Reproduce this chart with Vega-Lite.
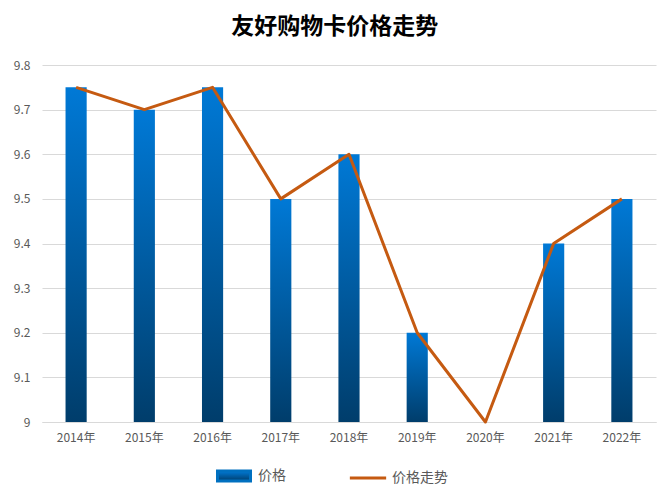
{
  "$schema": "https://vega.github.io/schema/vega-lite/v6.json",
  "width": 614,
  "height": 357,
  "autosize": {"type": "none"},
  "padding": {"left": 42, "top": 65, "right": 12, "bottom": 80},
  "background": "white",
  "title": {
    "text": "友好购物卡价格走势",
    "font": "Noto Sans CJK SC",
    "fontSize": 23,
    "fontWeight": "bold",
    "color": "#000000",
    "anchor": "middle",
    "frame": "bounds",
    "offset": 20
  },
  "config": {
    "view": {"stroke": null},
    "font": "Noto Sans CJK SC",
    "axis": {"labelFont": "Noto Sans CJK SC", "labelColor": "#595959", "labelFontSize": 12}
  },
  "data": {
    "values": [
      {"year": "2014年", "price": 9.75},
      {"year": "2015年", "price": 9.7},
      {"year": "2016年", "price": 9.75},
      {"year": "2017年", "price": 9.5},
      {"year": "2018年", "price": 9.6},
      {"year": "2019年", "price": 9.2},
      {"year": "2020年", "price": 9.0},
      {"year": "2021年", "price": 9.4},
      {"year": "2022年", "price": 9.5}
    ]
  },
  "encoding": {
    "x": {
      "field": "year",
      "type": "nominal",
      "sort": null,
      "title": null,
      "scale": {"type": "band", "paddingInner": 0, "paddingOuter": 0},
      "axis": {"labelAngle": 0, "ticks": false, "domainColor": "#D9D9D9", "labelPadding": 10, "grid": false}
    },
    "y": {
      "field": "price",
      "type": "quantitative",
      "title": null,
      "scale": {"domain": [9, 9.8], "zero": false, "nice": false},
      "axis": {
        "values": [9, 9.1, 9.2, 9.3, 9.4, 9.5, 9.6, 9.7, 9.8],
        "format": ".1~f",
        "ticks": false,
        "domain": false,
        "gridColor": "#D9D9D9",
        "labelPadding": 12
      }
    }
  },
  "layer": [
    {
      "mark": {
        "type": "bar",
        "width": {"band": 0.31},
        "fill": {
          "gradient": "linear",
          "x1": 0, "y1": 0, "x2": 0, "y2": 1,
          "stops": [
            {"offset": 0, "color": "#0079D6"},
            {"offset": 1, "color": "#003D6B"}
          ]
        }
      },
      "encoding": {
        "y2": {"datum": 9}
      }
    },
    {
      "mark": {"type": "line", "strokeWidth": 3, "strokeJoin": "round"},
      "encoding": {
        "color": {
          "datum": "价格走势",
          "scale": {"domain": ["价格", "价格走势"], "range": ["#0070C0", "#C55A11"]},
          "legend": {
            "title": null,
            "orient": "none",
            "legendX": 174,
            "legendY": 393,
            "direction": "horizontal",
            "labelFontSize": 14,
            "labelColor": "#595959",
            "labelFont": "Noto Sans CJK SC",
            "columnPadding": 57,
            "labelOffset": 6,
            "symbolSize": 1089,
            "encode": {
              "symbols": {
                "update": {
                  "shape": [
                    {"test": "datum.value === '价格'", "value": "M-1,-0.3H1V0.3H-1Z"},
                    {"value": "M-1.1,0H1.1"}
                  ],
                  "fill": [
                    {"test": "datum.value === '价格'", "value": {"gradient": "linear", "x1": 0, "y1": 0, "x2": 0, "y2": 1, "stops": [{"offset": 0, "color": "#0079D6"}, {"offset": 1, "color": "#003D6B"}]}},
                    {"value": "transparent"}
                  ],
                  "stroke": [
                    {"test": "datum.value === '价格'", "value": "transparent"},
                    {"value": "#C55A11"}
                  ],
                  "strokeWidth": {"value": 3},
                  "opacity": {"value": 1}
                }
              }
            }
          }
        }
      }
    }
  ]
}
